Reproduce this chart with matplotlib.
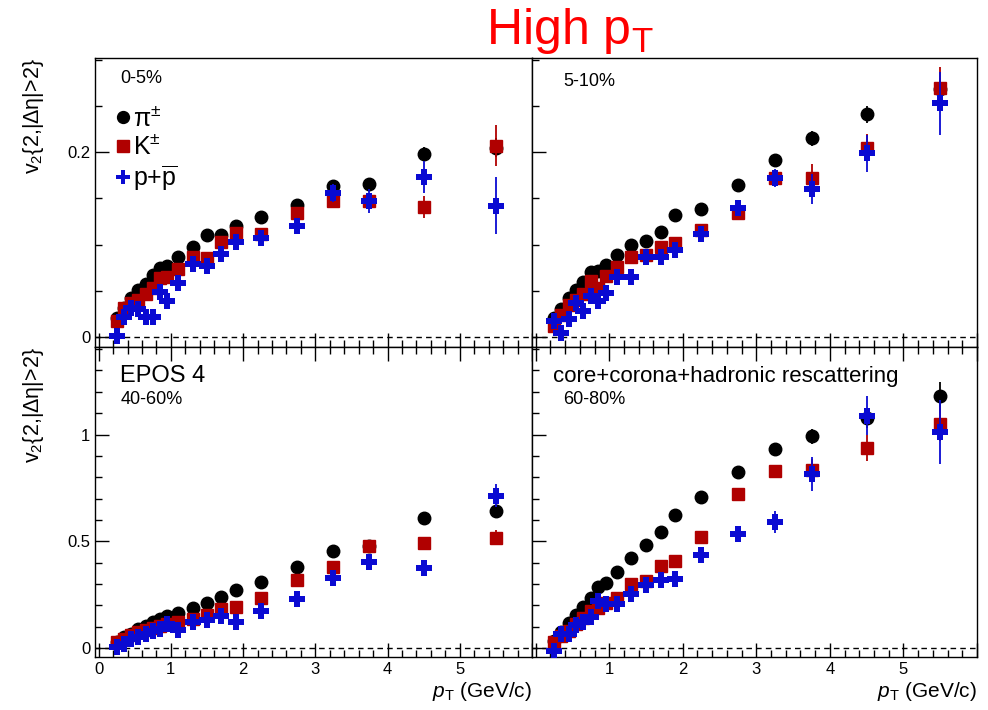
import numpy as np
import matplotlib
matplotlib.use("Agg")
import matplotlib.pyplot as plt
from matplotlib.ticker import MultipleLocator, FuncFormatter

plt.rcParams["font.family"] = ["Liberation Sans", "DejaVu Sans"]
plt.rcParams["mathtext.fontset"] = "custom"
plt.rcParams["mathtext.rm"] = "Liberation Sans"
plt.rcParams["mathtext.it"] = "Liberation Sans:italic"

# pT bin centres (GeV/c)
pt = [0.25, 0.35, 0.45, 0.55, 0.65, 0.75, 0.85, 0.95, 1.1, 1.3, 1.5, 1.7, 1.9,
      2.25, 2.75, 3.25, 3.75, 4.5, 5.5]

# 0-5%
pi_0_5 = [0.020, 0.031, 0.042, 0.051, 0.057, 0.067, 0.075, 0.077, 0.087, 0.097,
          0.110, 0.110, 0.120, 0.130, 0.143, 0.163, 0.165, 0.198, 0.205]
k_0_5 = [0.017, 0.031, 0.037, 0.040, 0.046, 0.053, 0.064, 0.065, 0.073, 0.087,
         0.085, 0.103, 0.112, 0.111, 0.134, 0.147, 0.147, 0.141, 0.207]
p_0_5 = [0.001, 0.022, 0.031, 0.030, 0.021, 0.021, 0.049, 0.039, 0.058, 0.079,
         0.077, 0.090, 0.103, 0.107, 0.120, 0.156, 0.147, 0.173, 0.142]
pi_0_5_err = [0.001] * 15 + [0.004, 0.007, 0.008, 0.010]
k_0_5_err = [0.001] * 15 + [0.007, 0.008, 0.012, 0.022]
p_0_5_err = [0.001] * 15 + [0.010, 0.013, 0.017, 0.031]

# 5-10%
pi_5_10 = [0.020, 0.030, 0.042, 0.051, 0.059, 0.070, 0.071, 0.078, 0.089, 0.100,
           0.104, 0.114, 0.132, 0.138, 0.164, 0.192, 0.215, 0.241, 0.268]
k_5_10 = [0.012, 0.024, 0.035, 0.040, 0.046, 0.060, 0.053, 0.066, 0.076, 0.086,
          0.089, 0.097, 0.102, 0.116, 0.134, 0.172, 0.172, 0.205, 0.269]
p_5_10 = [0.017, 0.004, 0.019, 0.037, 0.028, 0.044, 0.039, 0.048, 0.065, 0.065,
          0.087, 0.086, 0.094, 0.111, 0.140, 0.172, 0.160, 0.199, 0.253]
pi_5_10_err = [0.001] * 15 + [0.004, 0.008, 0.009, 0.012]
k_5_10_err = [0.001] * 15 + [0.007, 0.015, 0.015, 0.023]
p_5_10_err = [0.001] * 15 + [0.010, 0.016, 0.020, 0.034]

# 40-60%
pi_40_60 = [0.026, 0.050, 0.068, 0.089, 0.104, 0.123, 0.135, 0.151, 0.166, 0.187,
            0.213, 0.241, 0.271, 0.311, 0.379, 0.454, 0.478, 0.607, 0.641]
k_40_60 = [0.026, 0.042, 0.061, 0.073, 0.084, 0.096, 0.104, 0.112, 0.124, 0.135,
           0.156, 0.182, 0.190, 0.236, 0.320, 0.379, 0.476, 0.491, 0.516]
p_40_60 = [0.003, 0.019, 0.042, 0.050, 0.065, 0.078, 0.089, 0.112, 0.084, 0.124,
           0.131, 0.151, 0.123, 0.174, 0.232, 0.330, 0.403, 0.376, 0.714]
pi_40_60_err = [0.002] * 15 + [0.010, 0.012, 0.015, 0.025]
k_40_60_err = [0.002] * 15 + [0.012, 0.015, 0.020, 0.035]
p_40_60_err = [0.002] * 15 + [0.020, 0.025, 0.030, 0.055]

# 60-80%
pi_60_80 = [0.034, 0.073, 0.115, 0.156, 0.193, 0.236, 0.286, 0.306, 0.356, 0.420,
            0.481, 0.543, 0.624, 0.706, 0.823, 0.932, 0.991, 1.076, 1.182]
k_60_80 = [0.030, 0.058, 0.081, 0.112, 0.143, 0.174, 0.187, 0.213, 0.236, 0.302,
           0.314, 0.384, 0.407, 0.519, 0.723, 0.827, 0.835, 0.936, 1.050]
p_60_80 = [-0.012, 0.065, 0.065, 0.109, 0.120, 0.146, 0.221, 0.208, 0.208, 0.255,
           0.295, 0.317, 0.325, 0.435, 0.532, 0.591, 0.815, 1.089, 1.014]
pi_60_80_err = [0.003] * 15 + [0.015, 0.035, 0.045, 0.065]
k_60_80_err = [0.003] * 15 + [0.030, 0.050, 0.060, 0.080]
p_60_80_err = [0.003] * 15 + [0.050, 0.080, 0.090, 0.150]

PI_COLOR = "black"
K_COLOR = "#b00000"
P_COLOR = "#0a0ad2"

fig = plt.figure(figsize=(9.88, 7.1), dpi=100)

W, H = 988, 710


def axes_px(x0, y0, x1, y1):
    return fig.add_axes([x0 / W, 1 - y1 / H, (x1 - x0) / W, (y1 - y0) / H])


ax_tl = axes_px(95, 58, 532, 347)
ax_tr = axes_px(532, 58, 977, 347)
ax_bl = axes_px(95, 347, 532, 657)
ax_br = axes_px(532, 347, 977, 657)

panels = [
    (ax_tl, pi_0_5, k_0_5, p_0_5, pi_0_5_err, k_0_5_err, p_0_5_err),
    (ax_tr, pi_5_10, k_5_10, p_5_10, pi_5_10_err, k_5_10_err, p_5_10_err),
    (ax_bl, pi_40_60, k_40_60, p_40_60, pi_40_60_err, k_40_60_err, p_40_60_err),
    (ax_br, pi_60_80, k_60_80, p_60_80, pi_60_80_err, k_60_80_err, p_60_80_err),
]

fmt_num = FuncFormatter(lambda v, _: f"{v:g}")
fmt_x = FuncFormatter(lambda v, _: f"{v:g}" if v < 5.5 else "")
fmt_x_nozero = FuncFormatter(lambda v, _: "" if abs(v) < 1e-9 or v > 5.5 else f"{v:g}")

handles = []
for ax, pi, k, p, pie, ke, pe in panels:
    top = ax in (ax_tl, ax_tr)
    ax.axhline(0, color="black", lw=1.0, ls=(0, (4, 3)), zorder=1)
    c1 = ax.errorbar(pt, pi, yerr=pie, fmt="o", color=PI_COLOR, ms=9,
                     elinewidth=1.3, capsize=0, zorder=3)
    c2 = ax.errorbar(pt, k, yerr=ke, fmt="s", color=K_COLOR, ms=8.5,
                     elinewidth=1.3, capsize=0, zorder=4)
    c3 = ax.errorbar(pt, p, yerr=pe, fmt="P", color=P_COLOR, ms=11, mew=0,
                     elinewidth=1.3, capsize=0, zorder=5)
    if ax is ax_tl:
        handles = [c1[0], c2[0], c3[0]]
    ax.set_xlim(-0.05, 6.0)
    if top:
        ax.set_ylim(-0.011, 0.302)
        ax.yaxis.set_major_locator(MultipleLocator(0.2))
        ax.yaxis.set_minor_locator(MultipleLocator(0.05))
    else:
        ax.set_ylim(-0.042, 1.41)
        ax.yaxis.set_major_locator(MultipleLocator(0.5))
        ax.yaxis.set_minor_locator(MultipleLocator(0.1))
    ax.xaxis.set_major_locator(MultipleLocator(1))
    ax.xaxis.set_minor_locator(MultipleLocator(0.2))
    ax.yaxis.set_major_formatter(fmt_num)
    ax.tick_params(which="both", direction="in", top=not top, right=False,
                   labelsize=12, width=1)
    ax.tick_params(which="major", length=10)
    ax.tick_params(which="minor", length=5)
    if ax in (ax_tr, ax_br):
        ax.tick_params(labelleft=False)
    if top:
        ax.tick_params(labelbottom=False)
    for s in ax.spines.values():
        s.set_linewidth(1.0)

ax_bl.xaxis.set_major_formatter(fmt_x)
ax_br.xaxis.set_major_formatter(fmt_x_nozero)

for ax in (ax_tl, ax_bl):
    ax.text(-0.14, 1.0, "v$_2${2,|Δη|>2}", transform=ax.transAxes,
            rotation=90, ha="center", va="top", fontsize=15.5)
for ax in (ax_bl, ax_br):
    ax.text(1.0, -0.075, "$p_{\\mathrm{T}}$ (GeV/c)", transform=ax.transAxes,
            ha="right", va="top", fontsize=15)

ax_tl.text(0.058, 0.93, "0-5%", transform=ax_tl.transAxes, fontsize=13,
           va="center")
ax_tl.legend(handles, ["π$^{\\pm}$", "K$^{\\pm}$", "p+$\\overline{\\mathrm{p}}$"],
             loc="upper left", bbox_to_anchor=(0.025, 0.87), frameon=False,
             fontsize=18, handlelength=0.6, handletextpad=0.1,
             labelspacing=0.15, markerscale=0.95, borderaxespad=0)

ax_tr.text(0.07, 0.92, "5-10%", transform=ax_tr.transAxes, fontsize=13,
           va="center")
ax_bl.text(0.058, 0.905, "EPOS 4", transform=ax_bl.transAxes, fontsize=17,
           va="center")
ax_bl.text(0.058, 0.83, "40-60%", transform=ax_bl.transAxes, fontsize=13,
           va="center")
ax_br.text(0.047, 0.905, "core+corona+hadronic rescattering",
           transform=ax_br.transAxes, fontsize=16, va="center")
ax_br.text(0.07, 0.83, "60-80%", transform=ax_br.transAxes, fontsize=13,
           va="center")

fig.text(570 / W, 1 - 31 / H, "High p$_{\\mathrm{T}}$", color="red",
         fontsize=36, ha="center", va="center")

fig.savefig("out.png", dpi=100)
